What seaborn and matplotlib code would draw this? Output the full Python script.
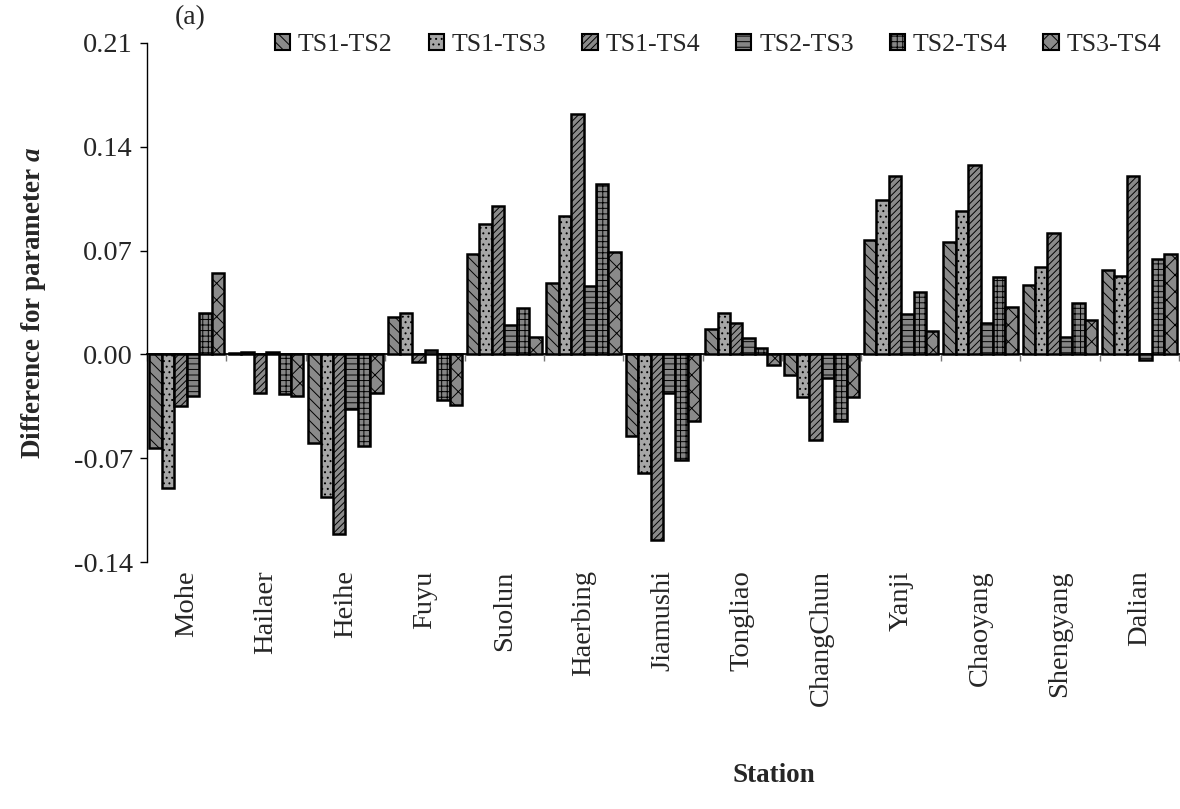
import matplotlib
matplotlib.use("Agg")
import matplotlib.pyplot as plt
from matplotlib.patches import Patch
import seaborn as sns
import pandas as pd

stations = ["Mohe", "Hailaer", "Heihe", "Fuyu", "Suolun", "Haerbing", "Jiamushi",
            "Tongliao", "ChangChun", "Yanji", "Chaoyang", "Shengyang", "Dalian"]
pairs = ["TS1-TS2", "TS1-TS3", "TS1-TS4", "TS2-TS3", "TS2-TS4", "TS3-TS4"]

ts1_ts2 = [-0.063, 0.001, -0.060, 0.025, 0.068, 0.048, -0.055, 0.017, -0.014, 0.077, 0.076, 0.047, 0.057]
ts1_ts3 = [-0.090, 0.0015, -0.096, 0.028, 0.088, 0.093, -0.080, 0.028, -0.029, 0.104, 0.097, 0.059, 0.053]
ts1_ts4 = [-0.035, -0.026, -0.121, -0.005, 0.100, 0.162, -0.125, 0.021, -0.058, 0.120, 0.128, 0.082, 0.120]
ts2_ts3 = [-0.028, 0.0015, -0.037, 0.003, 0.020, 0.046, -0.026, 0.011, -0.016, 0.027, 0.021, 0.012, -0.004]
ts2_ts4 = [0.028, -0.027, -0.062, -0.031, 0.031, 0.115, -0.071, 0.004, -0.045, 0.042, 0.052, 0.035, 0.064]
ts3_ts4 = [0.055, -0.028, -0.026, -0.034, 0.012, 0.069, -0.045, -0.007, -0.029, 0.016, 0.032, 0.023, 0.068]

yticks = [-0.14, -0.07, 0.00, 0.07, 0.14, 0.21]

series = [ts1_ts2, ts1_ts3, ts1_ts4, ts2_ts3, ts2_ts4, ts3_ts4]
rows = []
for p, vals in zip(pairs, series):
    for s, v in zip(stations, vals):
        rows.append({"Station": s, "Pair": p, "Value": v})
df = pd.DataFrame(rows)

fills = ["#8a8a8a", "#a6a6a6", "#8a8a8a", "#858585", "#858585", "#8a8a8a"]
hatches = ["\\\\\\", "...", "/////", "---", "+++", "xx"]

sns.set_theme(style="white")
plt.rcParams["font.family"] = ["Liberation Serif", "DejaVu Serif"]
plt.rcParams["axes.unicode_minus"] = False
plt.rcParams["mathtext.fontset"] = "custom"
plt.rcParams["mathtext.it"] = "Liberation Serif:italic:bold"
plt.rcParams["mathtext.rm"] = "Liberation Serif:bold"
plt.rcParams["hatch.linewidth"] = 0.7

fig = plt.figure(figsize=(11.8, 8.09), dpi=100)
ax = fig.add_axes([147/1180, 1 - 562/809, (1179-147)/1180, (562-43)/809])

sns.barplot(data=df, x="Station", y="Value", hue="Pair", order=stations, hue_order=pairs,
            palette=fills, saturation=1, width=0.94, edgecolor="black", linewidth=1.8,
            ax=ax, legend=False)

for cont, h in zip(ax.containers, hatches):
    for bar in cont.patches:
        bar.set_hatch(h)

ax.set_ylim(-0.14, 0.21)
ax.set_xlim(-0.5, len(stations) - 0.5)
ax.set_yticks(yticks)
ax.set_yticklabels([f"{t:.2f}" for t in yticks], fontsize=20.5)
ax.set_xticks(range(len(stations)))
ax.set_xticklabels(stations, rotation=90, fontsize=20.5)
ax.tick_params(axis="x", length=0, pad=6)
ax.tick_params(axis="y", length=5, width=1, direction="out", color="black", left=True, pad=5)

for sp in ["top", "right", "bottom"]:
    ax.spines[sp].set_visible(False)
ax.spines["left"].set_color("black")
ax.spines["left"].set_linewidth(1)

# category axis crossing at zero
sec = ax.secondary_xaxis(0.14 / 0.35)
sec.set_xticks([i - 0.5 for i in range(len(stations) + 1)])
sec.set_xticklabels([])
sec.tick_params(axis="x", length=5, width=1, color="#777777", direction="out")
sec.spines["bottom"].set_color("black")
sec.spines["bottom"].set_linewidth(1.3)

ax.set_ylabel("Difference for parameter $a$", fontsize=19.5, fontweight="bold")
ax.yaxis.set_label_coords(-(147 - 48) / 1032, 0.5)
ax.set_xlabel("Station", fontsize=19.5, fontweight="bold")
ax.xaxis.set_label_coords((774 - 147) / 1032, (562 - 763) / 519)

handles = [Patch(facecolor=f, edgecolor="black", hatch=h, linewidth=1.5) for f, h in zip(fills, hatches)]
ax.legend(handles, pairs, loc="center", bbox_to_anchor=((718 - 147) / 1032, (562 - 45) / 519),
          ncol=6, frameon=False, fontsize=18.5, handlelength=0.6, handleheight=0.6,
          handletextpad=0.3, columnspacing=1.4, borderaxespad=0)

fig.text(190 / 1180, 1 - 18 / 809, "(a)", fontsize=20, ha="center", va="center")

fig.savefig("out.png", dpi=100)
